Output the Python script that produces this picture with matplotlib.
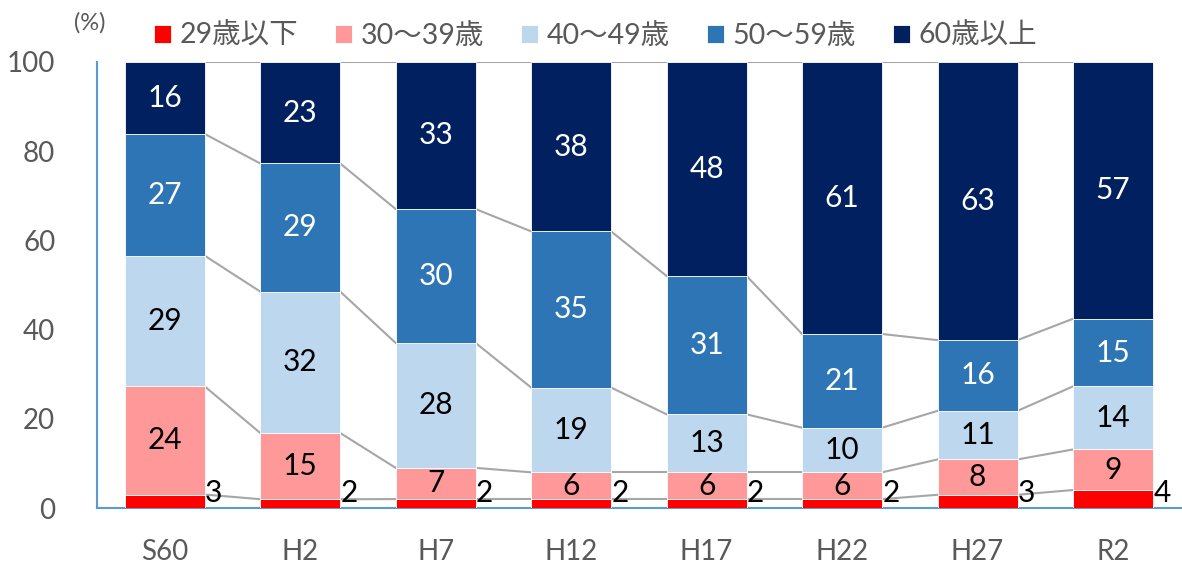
import numpy as np
import matplotlib.pyplot as plt

plt.rcParams['font.family'] = ['Lato', 'Noto Sans CJK JP', 'DejaVu Sans']

years = ['S60', 'H2', 'H7', 'H12', 'H17', 'H22', 'H27', 'R2']
labels = ['29歳以下', '30～39歳', '40～49歳', '50～59歳', '60歳以上']
age_29 = [3, 2, 2, 2, 2, 2, 3, 4]
age_30 = [24, 15, 7, 6, 6, 6, 8, 9]
age_40 = [29, 32, 28, 19, 13, 10, 11, 14]
age_50 = [27, 29, 30, 35, 31, 21, 16, 15]
age_60 = [16, 23, 33, 38, 48, 61, 63, 57]

colors = ['#FF0000', '#FF9999', '#BDD7EE', '#2E75B6', '#002060']
text_colors = ['black', 'black', 'black', 'white', 'white']

data = np.array([age_29, age_30, age_40, age_50, age_60], dtype=float)
share = data / data.sum(axis=0) * 100  # 100% stacked

fig = plt.figure(figsize=(11.82, 5.67), dpi=100)
ax = fig.add_axes([0.082, 0.104, 0.917, 0.787])

x = np.arange(len(years))
w = 0.59
bottom = np.zeros(len(years))
for i in range(5):
    ax.bar(x, share[i], w, bottom=bottom, color=colors[i], edgecolor='white',
           linewidth=0.6, label=labels[i], zorder=3)
    top = bottom + share[i]
    # series lines between bars
    for j in range(len(years) - 1):
        ax.plot([x[j] + w / 2, x[j + 1] - w / 2], [top[j], top[j + 1]],
                color='#A6A6A6', lw=1.5, zorder=2)
    for j in range(len(years)):
        if i == 0:
            ax.text(x[j] + 0.36, 3.4, str(int(data[i, j])), ha='center',
                    va='center', fontsize=21.5, color='black', zorder=4)
        else:
            ax.text(x[j], bottom[j] + share[i, j] / 2, str(int(data[i, j])),
                    ha='center', va='center', fontsize=21.5,
                    color=text_colors[i], zorder=4)
    bottom = top

ax.set_xlim(-0.5, 7.5)
ax.set_ylim(0, 100)
ax.set_yticks(range(0, 101, 20))
ax.set_xticks(x)
ax.set_xticklabels(years)
ax.tick_params(axis='both', length=0, labelsize=20, labelcolor='#595959')
ax.tick_params(axis='x', pad=22)
ax.tick_params(axis='y', pad=30)
for s in ['top', 'right']:
    ax.spines[s].set_visible(False)
for s in ['left', 'bottom']:
    ax.spines[s].set_color('#5B9BD5')
    ax.spines[s].set_linewidth(1.5)

fig.text(0.076, 0.959, '(%)', fontsize=17, color='#595959', ha='center', va='center')
ax.legend(loc='center', bbox_to_anchor=(0.46, 1.058), ncol=5, frameon=False,
          fontsize=20.5, handlelength=0.6, handleheight=0.6, handletextpad=0.3,
          columnspacing=1.3, labelcolor='#595959')

fig.savefig('out.png', dpi=100)
